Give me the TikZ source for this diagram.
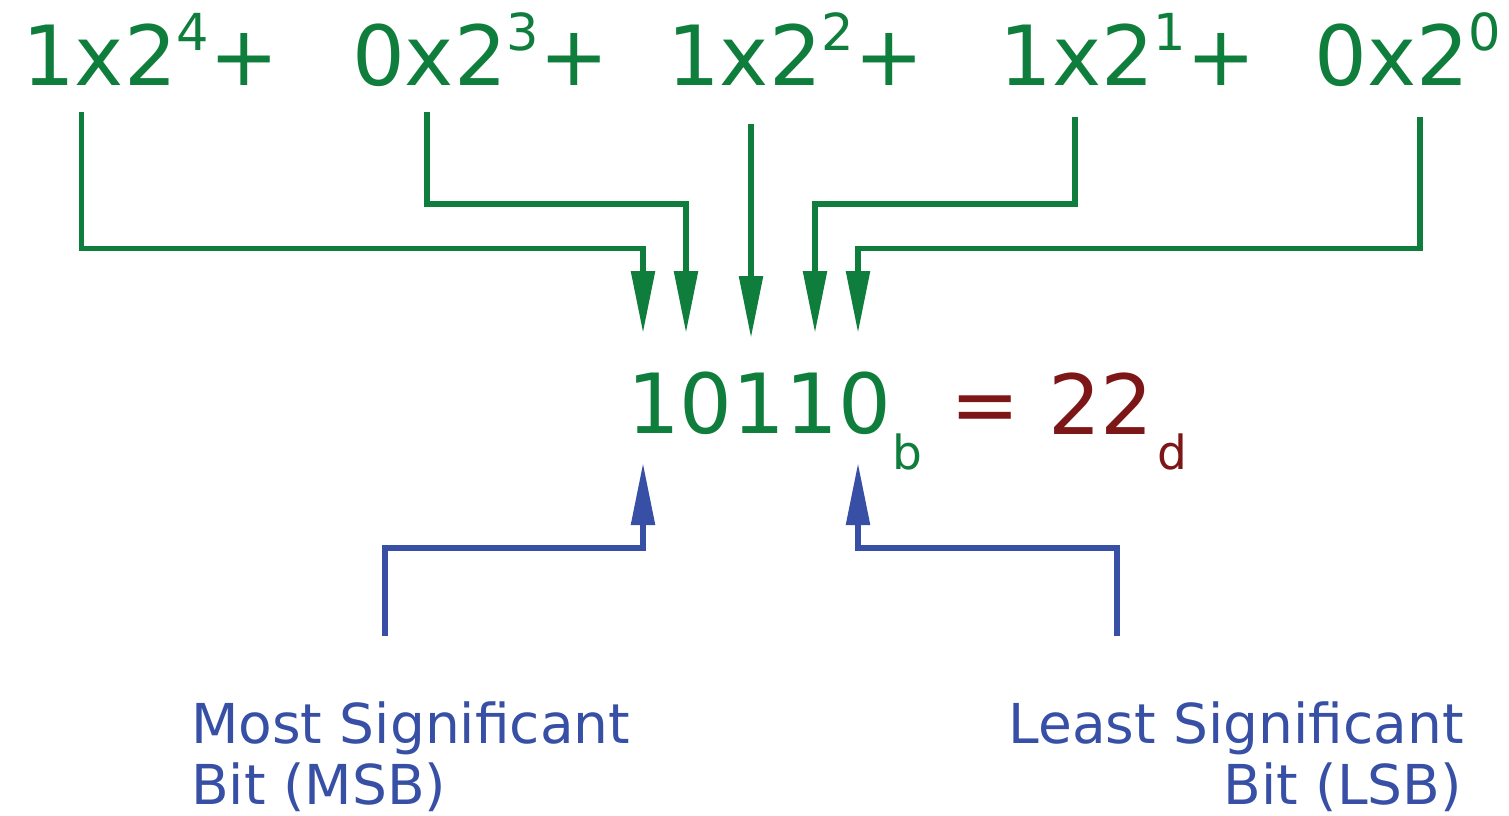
\documentclass[tikz,border=0pt]{standalone}
\usepackage{fontspec}
\setmainfont{DejaVu Sans}
\usetikzlibrary{arrows.meta}
\definecolor{bgreen}{RGB}{15,125,60}
\definecolor{dred}{RGB}{125,22,22}
\definecolor{bblue}{RGB}{55,80,165}
\newcommand{\supd}[1]{\raisebox{35pt}{\fontsize{51}{51}\selectfont #1}}
\tikzset{
  term/.style={inner sep=0pt, anchor=base west, text=bgreen, font=\fontsize{83}{83}\selectfont},
  subl/.style={inner sep=0pt, font=\fontsize{47}{47}\selectfont},
  lbl/.style={inner sep=0pt, text=bblue, font=\fontsize{55}{55}\selectfont},
  garrow/.style={draw=bgreen, line width=5.5pt, -{Triangle[length=62pt,width=23pt]}},
  barrow/.style={draw=bblue, line width=5.5pt, -{Triangle[length=62pt,width=23pt]}},
}
\begin{document}
\begin{tikzpicture}[x=1pt,y=-1pt]
\useasboundingbox (0,0) rectangle (1509,816);
% top terms
\node[term] (t1) at (22,85) {1x2\supd{4}+};
\node[term] (t2) at (352,85) {0x2\supd{3}+};
\node[term] (t3) at (667,85) {1x2\supd{2}+};
\node[term] (t4) at (999,85) {1x2\supd{1}+};
\node[term] (t5) at (1314,85) {0x2\supd{0}};
% middle
\node[term] (bin) at (627,433) {10110};
\node[subl, anchor=base west, text=bgreen] (bsub) at (892,469) {b};
\node[inner sep=0pt, anchor=base, text=dred, font=\fontsize{83}{83}\selectfont] (eq) at (985,433) {=};
\node[inner sep=0pt, anchor=base, text=dred, font=\fontsize{83}{83}\selectfont] (dec) at (1101,434) {22};
\node[subl, anchor=base, text=dred] (dsub) at (1172,469) {d};
% labels
\node[lbl, anchor=base west] (msb1) at (191,743) {Most Significant};
\node[lbl, anchor=base west] (msb2) at (191,804) {Bit (MSB)};
\node[lbl, anchor=base east] (lsb1) at (1464,743) {Least Significant};
\node[lbl, anchor=base east] (lsb2) at (1462,804) {Bit (LSB)};
% coordinates
\coordinate (s1) at (81.5,112);
\coordinate (s2) at (427,112);
\coordinate (s3) at (751,124);
\coordinate (s4) at (1075,117);
\coordinate (s5) at (1420,117);
\coordinate (k1) at (643,248.5);
\coordinate (k2) at (686,204);
\coordinate (k4) at (815,204);
\coordinate (k5) at (858,248.5);
\coordinate (e1) at (643,333);
\coordinate (e2) at (686,333);
\coordinate (e3) at (751,338);
\coordinate (e4) at (815,333);
\coordinate (e5) at (858,333);
\draw[garrow] (s1) |- (k1) -- (e1);
\draw[garrow] (s2) |- (k2) -- (e2);
\draw[garrow] (s3) -- (e3);
\draw[garrow] (s4) |- (k4) -- (e4);
\draw[garrow] (s5) |- (k5) -- (e5);
% blue
\coordinate (m0) at (385,636);
\coordinate (mk) at (643,548);
\coordinate (me) at (643,463);
\coordinate (l0) at (1117,636);
\coordinate (lk) at (858,548);
\coordinate (le) at (858,463);
\draw[barrow] (m0) |- (mk) -- (me);
\draw[barrow] (l0) |- (lk) -- (le);
\end{tikzpicture}
\end{document}
